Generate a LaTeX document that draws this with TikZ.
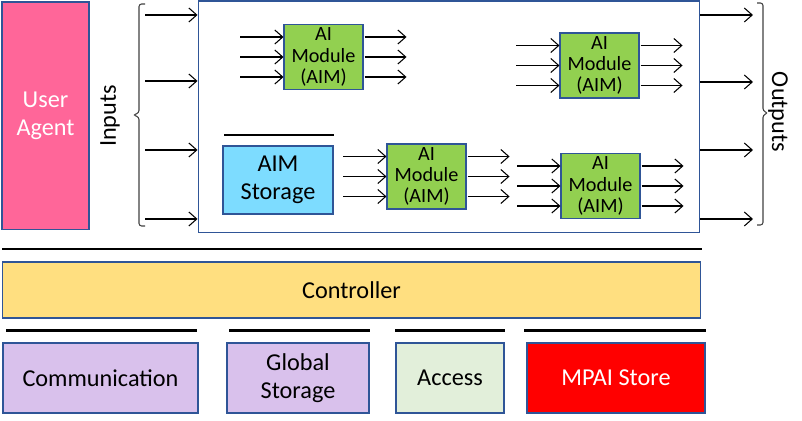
\documentclass[tikz,border=0pt]{standalone}
\usepackage{fontspec}
\setmainfont{Carlito}
\usepackage{xcolor}
\usetikzlibrary{
    arrows.meta,
    positioning,
    calc
}

\definecolor{edgeblue}{HTML}{2F5597}
\definecolor{agentpink}{HTML}{FF6699}
\definecolor{aimgreen}{HTML}{92D050}
\definecolor{storeblue}{HTML}{7DDCFF}
\definecolor{ctrlyellow}{HTML}{FFDF80}
\definecolor{lilac}{HTML}{D9C1EC}
\definecolor{palegreen}{HTML}{E2EFDA}

\begin{document}
\begin{tikzpicture}[
    x=0.02cm, y=-0.02cm,
    box/.style={
        rectangle,
        draw=edgeblue,
        line width=0.6pt,
        inner sep=0pt,
        align=center,
        font=\fontsize{13.8}{16}\selectfont
    },
    aim/.style={
        box,
        fill=aimgreen,
        minimum width=1.58cm,
        minimum height=1.3cm,
        font=\fontsize{11.5}{12}\selectfont
    },
    arrow/.style={draw, line width=0.6pt, -{Straight Barb[length=4.5pt,width=8pt]}},
    bar/.style={draw, line width=1.3pt},
    bracket/.style={draw, black!75, line width=0.6pt, rounded corners=1.5pt}
]

\useasboundingbox (0,0) rectangle (802,421);

% User agent
\node[box, fill=agentpink, text=white, minimum width=1.74cm, minimum height=4.56cm] (agent) at (45.5,116) {User\\Agent};

% Inputs
\node[font=\fontsize{13.8}{16}\selectfont, rotate=90] (inputs) at (110,116) {Inputs};
\draw[bracket] (145,4) -- (139,4) -- (139,113) -- (133,115) -- (139,117) -- (139,226) -- (145,226);

% Execution area
\node[box, minimum width=10.04cm, minimum height=4.64cm] (main) at (449,117) {};

\foreach \y [count=\i] in {15,81,150,219} {
    \coordinate (in\i) at (145,\y);
    \draw[arrow] (in\i) -- (in\i -| main.west);
}

% AI modules
\node[aim] (aim1) at (323.5,57) {AI\\Module\\(AIM)};
\node[aim] (aim2) at (599.5,65.5) {AI\\Module\\(AIM)};
\node[aim] (aim3) at (426.5,176.5) {AI\\Module\\(AIM)};
\node[aim] (aim4) at (600.5,186) {AI\\Module\\(AIM)};

\foreach \m in {aim1,aim2,aim3,aim4} {
    \foreach \dy in {-20,0,20} {
        \draw[arrow] ([shift={(-43,\dy)}]\m.west) -- ([shift={(0,\dy)}]\m.west);
        \draw[arrow] ([shift={(1,\dy)}]\m.east) -- ([shift={(43,\dy)}]\m.east);
    }
}

% AIM storage
\node[box, fill=storeblue, minimum width=2.2cm, minimum height=1.36cm] (aimstore) at (278,180) {AIM\\Storage};
\draw[bar] (224,135) -- (334,135);

% Outputs
\foreach \y [count=\i] in {15,82,150,219} {
    \coordinate (out\i) at (753,\y);
    \draw[arrow] (out\i -| main.east) -- (out\i);
}
\draw[bracket] (757,3) -- (763,3) -- (763,111) -- (768,113) -- (763,115) -- (763,225) -- (757,225);
\node[font=\fontsize{13.8}{16}\selectfont, rotate=-90] (outputs) at (778,112) {Outputs};

% Controller
\draw[bar] (2,249) -- (702,249);
\node[box, fill=ctrlyellow, minimum width=13.98cm, minimum height=1.12cm] (ctrl) at (351.5,290) {Controller};

% Services
\draw[bar] (6,330.5) -- (197,330.5);
\draw[bar] (229,330.5) -- (370,330.5);
\draw[bar] (395,330.5) -- (505,330.5);
\draw[bar] (524,330.5) -- (706,330.5);

\node[box, fill=lilac, minimum width=3.9cm, minimum height=1.4cm] (comm) at (100.5,378) {Communication};
\node[box, fill=lilac, minimum width=2.84cm, minimum height=1.4cm] (global) at (298,378) {Global\\Storage};
\node[box, fill=palegreen, minimum width=2.16cm, minimum height=1.4cm] (access) at (450,378) {Access};
\node[box, fill=red, text=white, minimum width=3.56cm, minimum height=1.4cm] (mpai) at (616,378) {MPAI Store};

\end{tikzpicture}
\end{document}
